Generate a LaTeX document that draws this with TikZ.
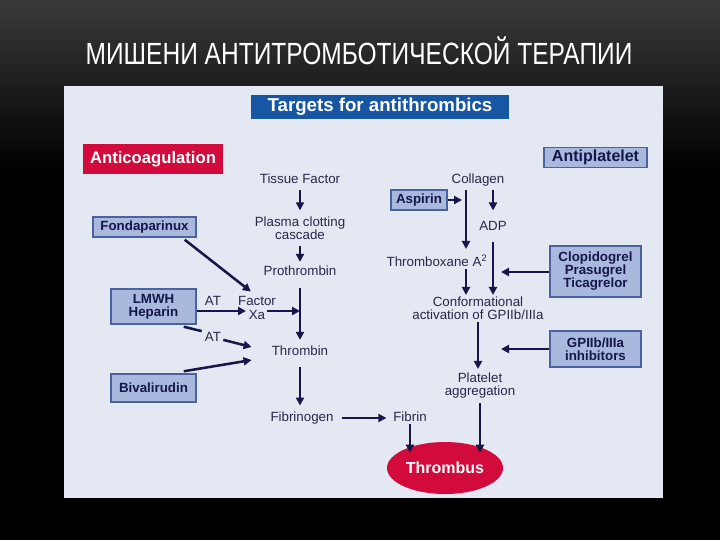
\documentclass[tikz,border=0pt]{standalone}
\usepackage{graphicx}
\usepackage{fontspec}
\setmainfont{Liberation Sans}
\usetikzlibrary{arrows.meta,shapes.geometric,calc}
\definecolor{panel}{HTML}{E4E8F2}
\definecolor{navy}{HTML}{16164A}
\definecolor{lbltxt}{HTML}{282848}
\definecolor{boxfill}{HTML}{A9B8DD}
\definecolor{boxdraw}{HTML}{4A62A0}
\definecolor{redbox}{HTML}{D20B3C}
\definecolor{bluebox}{HTML}{1756A2}
\definecolor{topgray}{HTML}{3A3A3A}
\begin{document}
\begin{tikzpicture}[x=0.75pt,y=-0.75pt,
 lbl/.style={text=lbltxt, font=\fontsize{10}{9.8}\selectfont, align=center, inner sep=0pt},
 drug/.style={draw=boxdraw, line width=1.1pt, fill=boxfill, text=navy, font=\bfseries\fontsize{10}{9.8}\selectfont, align=center, inner sep=0pt},
 arr/.style={draw=navy, line width=1.9pt, -{Triangle[length=6pt,width=6pt]}, shorten <=4.5pt, shorten >=4.5pt},
 ln/.style={draw=navy, line width=1.9pt}]
% background
\fill[black] (0,0) rectangle (720,540);
\shade[top color=topgray, bottom color=black] (0,0) rectangle (720,170);
\useasboundingbox (0,0) rectangle (720,540);
\node[text=white, font=\fontsize{23}{23}\selectfont, inner sep=0pt] (title) at (359,51) {\scalebox{0.8}[1]{МИШЕНИ АНТИТРОМБОТИЧЕСКОЙ ТЕРАПИИ}};
\fill[panel] (64,86) rectangle (663,498);

% headers
\node[fill=bluebox, text=white, font=\bfseries\fontsize{14}{14}\selectfont, minimum width=258*0.75pt, minimum height=24*0.75pt, inner sep=0pt] (targets) at (380,107) {Targets for antithrombics};
\node[fill=redbox, text=white, font=\bfseries\fontsize{12.5}{12.5}\selectfont, minimum width=140*0.75pt, minimum height=30*0.75pt, inner sep=0pt] (anticoag) at (153,159) {Anticoagulation};
\node[drug, font=\bfseries\fontsize{12}{12}\selectfont, minimum width=103*0.75pt, minimum height=20*0.75pt] (antiplt) at (595.5,157.5) {Antiplatelet};

% drug boxes
\node[drug, minimum width=103*0.75pt, minimum height=20*0.75pt] (fonda) at (144.5,227) {Fondaparinux};
\node[drug, minimum width=85*0.75pt, minimum height=35*0.75pt] (lmwh) at (153.5,306.5) {LMWH\\Heparin};
\node[drug, minimum width=85*0.75pt, minimum height=28*0.75pt] (biva) at (153.5,388) {Bivalirudin};
\node[drug, minimum width=56*0.75pt, minimum height=20*0.75pt] (asp) at (419,200) {Aspirin};
\node[drug, minimum width=91*0.75pt, minimum height=51*0.75pt] (clop) at (595.5,271.5) {Clopidogrel\\Prasugrel\\Ticagrelor};
\node[drug, minimum width=91*0.75pt, minimum height=36*0.75pt] (gp) at (595.5,349) {GPIIb/IIIa\\inhibitors};

% labels
\node[lbl] (tf) at (300,179) {Tissue Factor};
\node[lbl] (pcc) at (300,228) {Plasma clotting\\cascade};
\node[lbl] (pro) at (300,271) {Prothrombin};
\node[lbl] (fxa) at (257,308) {Factor\\Xa};
\node[lbl] (thr) at (300,351) {Thrombin};
\node[lbl] (fbg) at (302,418) {Fibrinogen};
\node[lbl] (fbn) at (410,417) {Fibrin};
\node[lbl] (at1) at (213,301) {AT};
\node[lbl] (at2) at (213,337) {AT};
\node[lbl] (coll) at (478,180) {Collagen};
\node[lbl] (adp) at (493,226) {ADP};
\node[lbl] (txa) at (437,261) {Thromboxane A\textsuperscript{2}};
\node[lbl] (conf) at (478,308) {Conformational\\activation of GPIIb/IIIa};
\node[lbl] (plt) at (480,386) {Platelet\\aggregation};
\node[ellipse, fill=redbox, text=white, font=\bfseries\fontsize{12}{12}\selectfont, minimum width=116*0.75pt, minimum height=52*0.75pt, inner sep=0pt] (thb) at (445,468) {Thrombus};

% helper coordinates
\coordinate (xaS) at (267,311);
\coordinate (xaW) at (246,311);
\coordinate (axis) at (466,200);
\coordinate (clT) at (501,272);
\coordinate (gpT) at (501,349);

% coagulation cascade
\draw[arr] (tf) -- (pcc);
\draw[arr, shorten >=3pt] (pcc) -- (pro);
\draw[arr, shorten <=9pt] (pro) -- (thr);
\draw[arr, shorten <=8pt] (thr.south) -- (thr.south |- fbg.north);
\draw[arr, shorten <=6pt, shorten >=5pt] (fbg.east) -- (fbg.east -| fbn.west);
\draw[arr, shorten <=1pt, shorten >=0pt] (fbn) -- ($(fbn |- thb.north)+(0,11)$);
\draw[arr, shorten <=0pt, shorten >=0pt] (xaS) -- (xaS -| pro);
\draw[arr, shorten <=0pt, shorten >=0pt] (lmwh.east |- xaS) -- (xaW);
\draw[arr, shorten <=0pt, shorten >=0pt] ($(fonda.south east)+(-12,2)$) -- ($(fxa.north west)+(13,-5)$);
\draw[ln] ($(lmwh.south east)+(-13,2)$) -- ($(at2.north west)+(-3,-1)$);
\draw[arr, shorten <=0pt, shorten >=0pt] ($(at2.south east)+(2,-2)$) -- ($(thr.west)+(-20,-4)$);
\draw[arr, shorten <=0pt, shorten >=0pt] ($(biva.north east)+(-13,-2)$) -- ($(thr.west)+(-20,9)$);

% platelet pathway
\draw[arr, shorten <=0pt, shorten >=3pt] (asp.east) -- (asp.east -| axis);
\draw[arr, shorten <=3pt, shorten >=4.5pt] (coll.south -| axis) -- (txa.north -| axis);
\draw[arr, shorten <=3pt, shorten >=8pt] (coll.south -| adp) -- (adp.north);
\draw[arr, shorten <=1.5pt, shorten >=1pt] (txa.south -| axis) -- (conf.north -| axis);
\draw[arr, shorten <=8pt, shorten >=1pt] (adp.south) -- (conf.north -| adp);
\draw[arr, shorten <=0pt, shorten >=0pt] (clop.west |- clT) -- (clT);
\draw[arr, shorten <=1.5pt, shorten >=3pt] (conf.south) -- (conf.south |- plt.north);
\draw[arr, shorten <=0pt, shorten >=0pt] (gp.west |- gpT) -- (gpT);
\draw[arr, shorten <=3pt, shorten >=0pt] (plt) -- ($(plt |- thb.north)+(0,11)$);
\end{tikzpicture}
\end{document}
